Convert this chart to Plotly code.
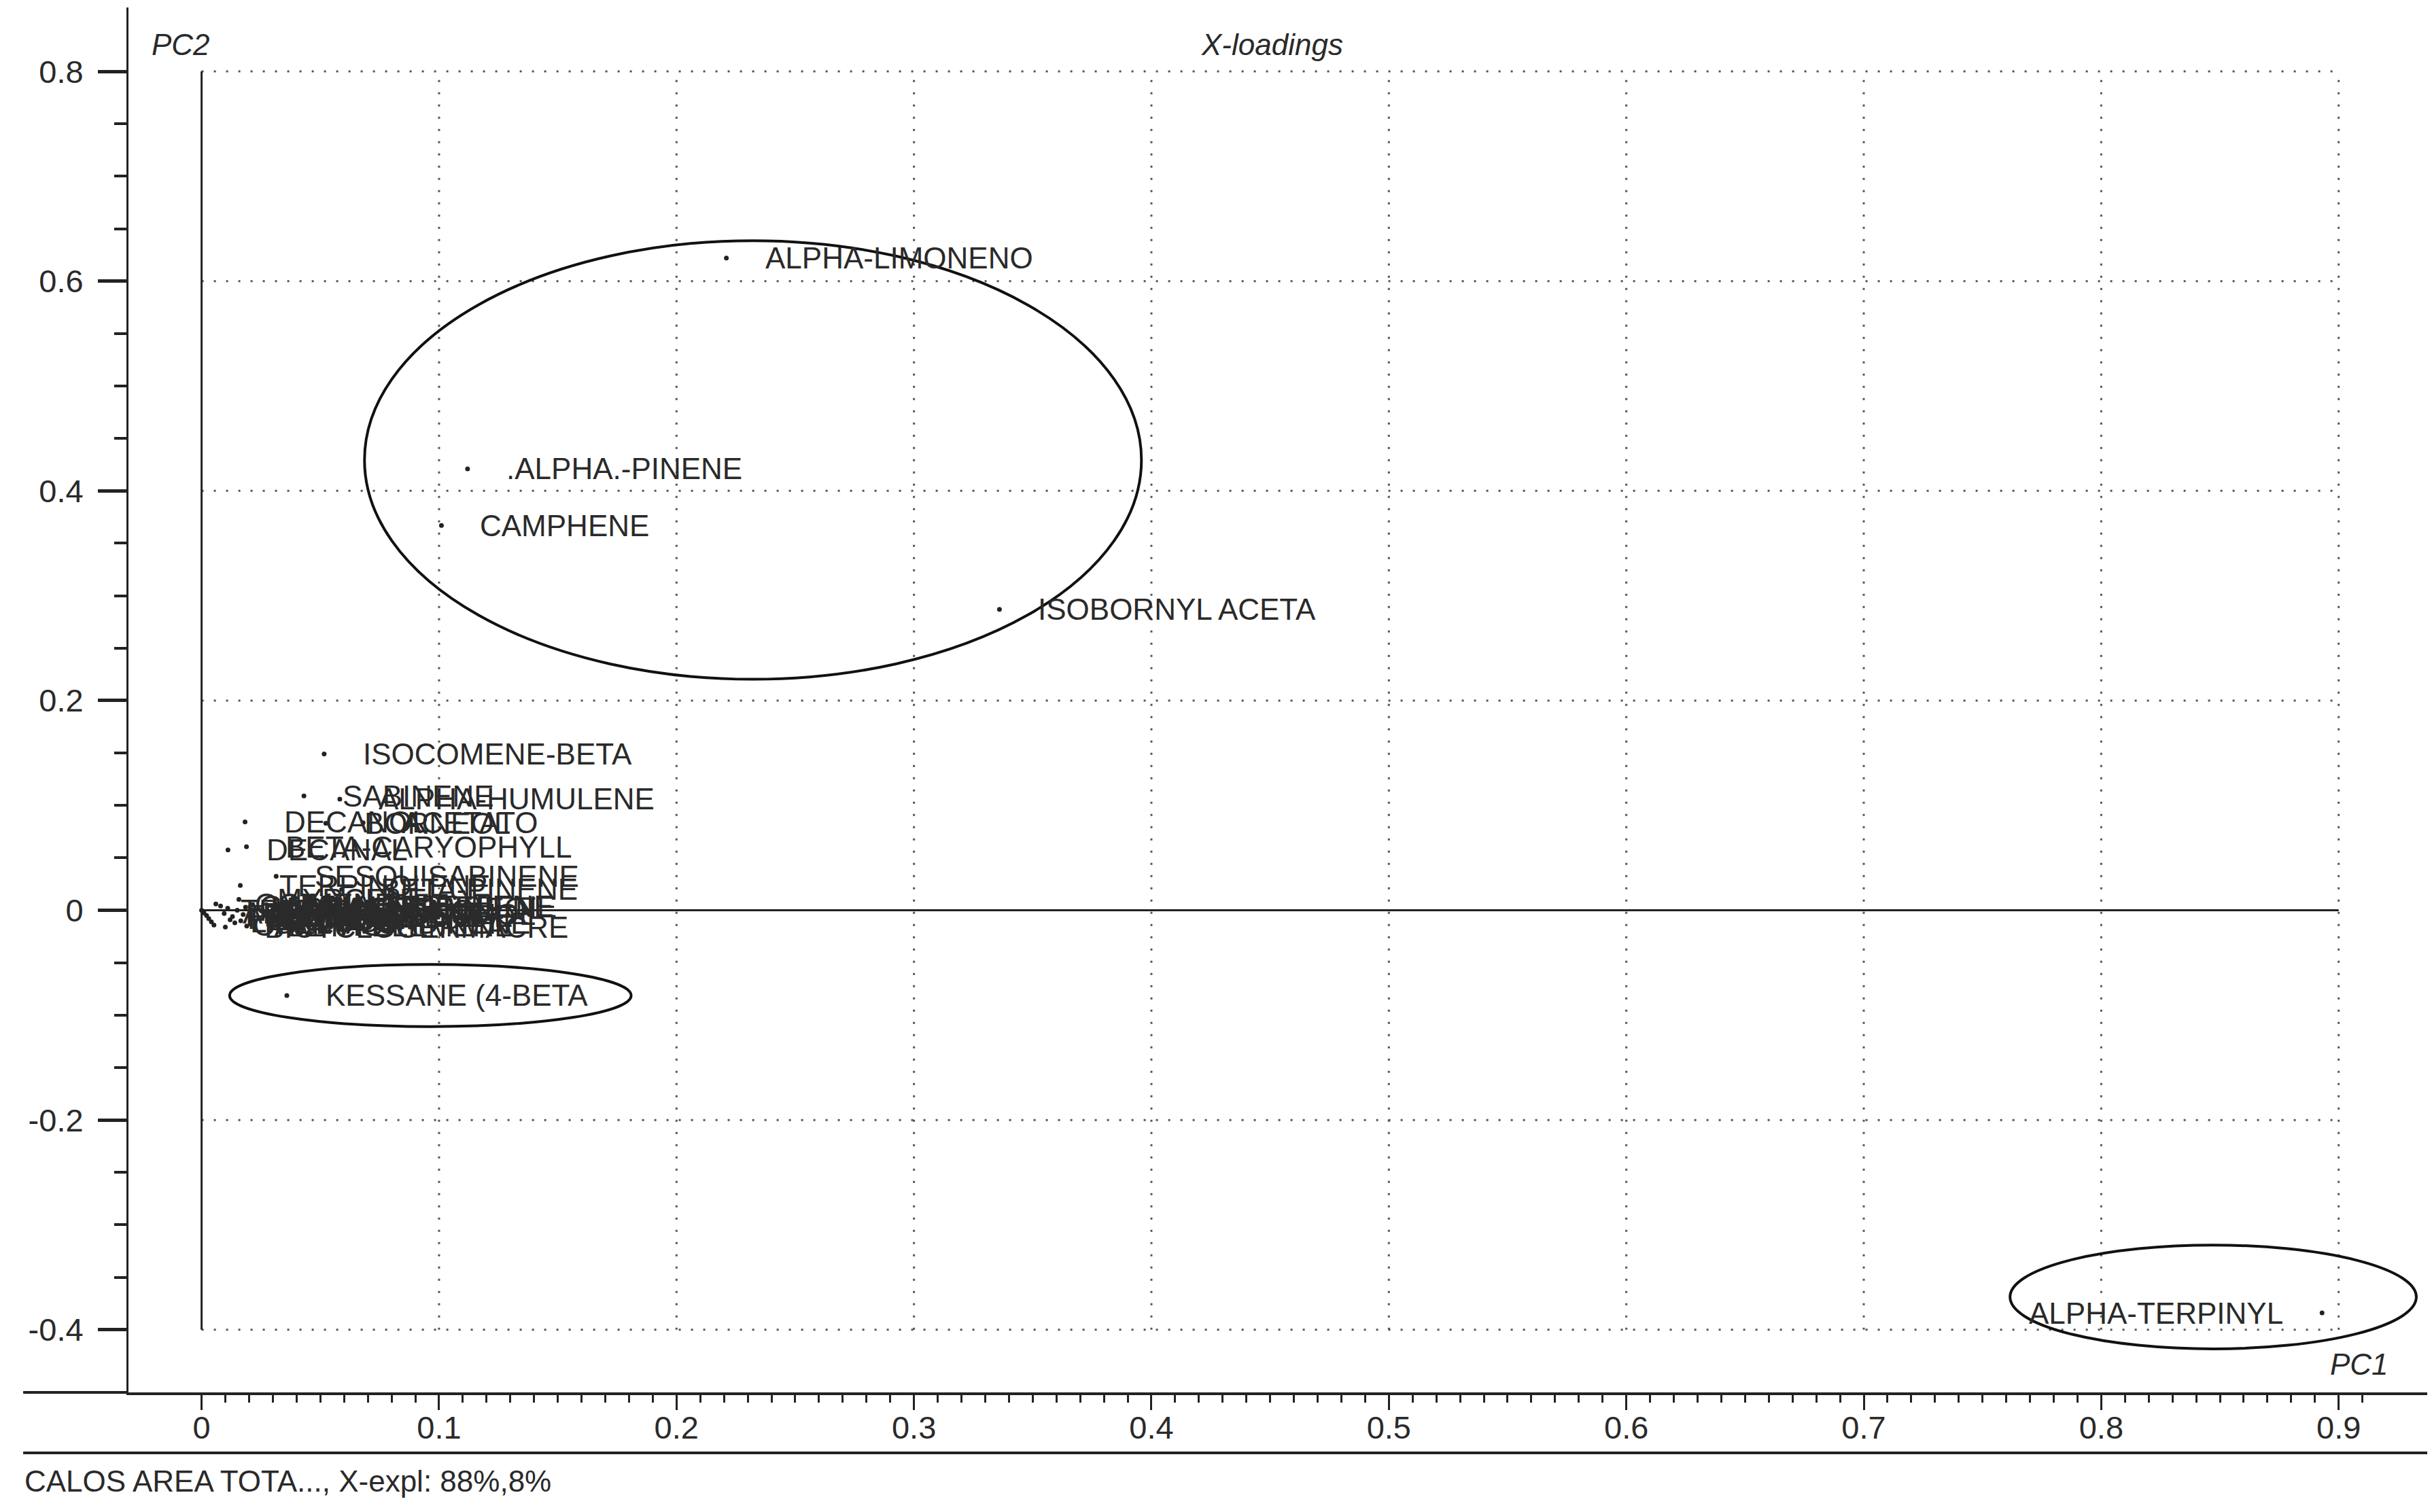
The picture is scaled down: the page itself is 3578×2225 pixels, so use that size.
import plotly.graph_objects as go

# -----------------------------
# X-loadings (PC1 / PC2)
# -----------------------------
names = [
    "ALPHA-LIMONENO", ".ALPHA.-PINENE", "CAMPHENE", "ISOBORNYL ACETA",
    "ISOCOMENE-BETA", "SABINENE", "ALPHA-HUMULENE",
    "DECANOL", "BORNEOL", "ACETATO",
    "DECANAL", "BETA-CARYOPHYLL", "SESQUISABINENE",
    "TERPINOLENE", "BETA-PINENE", "MYRCENE",
    "TRICYCLENE", "ALPHA-THUJENE", "FENCHONE", "P-CYMENE", "LINALOOL", "CAMPHOR",
    "OCIMENE", "GAMMA-TERPINENE", "TERPINEN-4-OL", "ALPHA-TERPINEOL",
    "ELEMOL", "GERMACRENE D", "DELTA-CADINENE", "SPATHULENOL", "GUAIOL",
    "BETA-EUDESMOL", "ALPHA-CUBEBENE", "BETA-ELEMENE", "BICYCLOGERMACRE",
    "KESSANE (4-BETA", "ALPHA-TERPINYL",
]
pc1 = [
    0.221, 0.112, 0.101, 0.336,
    0.0516, 0.0431, 0.0582,
    0.0183, 0.0523, 0.0680,
    0.0111, 0.0189, 0.0314,
    0.0163, 0.0590, 0.0157,
    0.0000, 0.0010, 0.0021, 0.0030, 0.0041, 0.0052,
    0.0060, 0.0080, 0.0095, 0.0110,
    0.0120, 0.0130, 0.0140, 0.0150, 0.0165,
    0.0175, 0.0185, 0.0190, 0.0100,
    0.0359, 0.893,
]
pc2 = [
    0.622, 0.421, 0.367, 0.287,
    0.149, 0.109, 0.106,
    0.0843, 0.0829, 0.0835,
    0.0576, 0.0606, 0.0325,
    0.0236, 0.0200, 0.0104,
    0.0000, -0.0025, -0.0050, -0.0080, -0.0110, -0.0140,
    0.0060, 0.0040, -0.0030, 0.0020,
    -0.0090, -0.0060, -0.0120, 0.0000, -0.0100,
    -0.0040, 0.0030, -0.0150, -0.0160,
    -0.0813, -0.384,
]
# labels written on the left side of their point
left_labels = ["ALPHA-TERPINYL"]

x_ticks = [0, 0.1, 0.2, 0.3, 0.4, 0.5, 0.6, 0.7, 0.8, 0.9]
x_ticktext = ["0", "0.1", "0.2", "0.3", "0.4", "0.5", "0.6", "0.7", "0.8", "0.9"]
y_ticks = [-0.4, -0.2, 0, 0.2, 0.4, 0.6, 0.8]
y_ticktext = ["-0.4", "-0.2", "0", "0.2", "0.4", "0.6", "0.8"]

# circled groups (x0, x1, y0, y1)
groups = [
    (0.0686, 0.3958, 0.2203, 0.6386),
    (0.0118, 0.1809, -0.1109, -0.0517),
    (0.7616, 0.9327, -0.4183, -0.3193),
]

FONT = "Liberation Sans, Arial, sans-serif"
FS = 44
INK = "#222"
TXT = "#2a2a2a"

fig = go.Figure()
fig.add_trace(go.Scatter(
    x=pc1, y=pc2, mode="markers", text=names, hoverinfo="text",
    marker=dict(color=INK, size=7, line=dict(width=0)), cliponaxis=False))

# labels next to points
for name, xv, yv in zip(names, pc1, pc2):
    left = name in left_labels
    fig.add_annotation(
        x=xv, y=yv, text=name, showarrow=False,
        xanchor="right" if left else "left", yanchor="middle",
        xshift=-55 if left else 55, font=dict(size=FS, color=TXT, family=FONT))

# dotted grid (only inside the tick frame)
gx0, gx1 = min(x_ticks), max(x_ticks)
gy0, gy1 = min(y_ticks), max(y_ticks)
for xv in x_ticks[1:]:
    fig.add_shape(type="line", x0=xv, x1=xv, y0=gy0, y1=gy1, layer="below",
                  line=dict(color="#555", width=3, dash="3px,15px"))
for yv in y_ticks:
    if yv == 0:
        continue
    fig.add_shape(type="line", x0=gx0, x1=gx1, y0=yv, y1=yv, layer="below",
                  line=dict(color="#555", width=3, dash="3px,15px"))
# zero lines
fig.add_shape(type="line", x0=0, x1=0, y0=gy0, y1=gy1, line=dict(color=INK, width=3))
fig.add_shape(type="line", x0=gx0, x1=gx1, y0=0, y1=0, line=dict(color=INK, width=3))

# ellipses
for x0, x1, y0, y1 in groups:
    fig.add_shape(type="circle", x0=x0, x1=x1, y0=y0, y1=y1,
                  line=dict(color="#111", width=4))

# bottom frame lines
fig.add_shape(type="line", xref="paper", yref="paper", x0=-0.0458, x1=0, y0=0, y1=0,
              line=dict(color=INK, width=4))
fig.add_shape(type="line", xref="paper", yref="paper", x0=-0.0458, x1=1, y0=-0.0437, y1=-0.0437,
              line=dict(color=INK, width=4))

# axis names and title
fig.add_annotation(x=-0.0216, y=0.826, text="<i>PC2</i>", showarrow=False, xanchor="left",
                   font=dict(size=FS, color=TXT, family=FONT))
fig.add_annotation(x=0.4507, y=0.826, text="<i>X-loadings</i>", showarrow=False, xanchor="center",
                   font=dict(size=FS, color=TXT, family=FONT))
fig.add_annotation(x=0.9216, y=-0.433, text="<i>PC1</i>", showarrow=False, xanchor="right",
                   font=dict(size=FS, color=TXT, family=FONT))
fig.add_annotation(xref="paper", yref="paper", x=-0.0458, y=-0.0638, xanchor="left", yanchor="middle",
                   text="CALOS AREA TOTA..., X-expl: 88%,8%", showarrow=False,
                   font=dict(size=FS, color=TXT, family=FONT))

fig.update_layout(
    width=3578, height=2225,
    margin=dict(l=189, r=7, t=11, b=176),
    plot_bgcolor="white", paper_bgcolor="white",
    showlegend=False,
    font=dict(family=FONT, size=FS, color=TXT),
    xaxis=dict(
        range=[-0.0308, 0.9373], showgrid=False, zeroline=False,
        showline=True, linecolor=INK, linewidth=4,
        ticks="outside", tickmode="array", tickvals=x_ticks, ticktext=x_ticktext,
        ticklen=22, tickwidth=3, tickcolor=INK, ticklabelstandoff=-14,
        minor=dict(tickmode="array", tickvals=[i / 100 for i in range(0, 92)],
                   ticks="outside", ticklen=11, tickwidth=3, tickcolor=INK),
        tickfont=dict(size=47, color=TXT, family=FONT),
    ),
    yaxis=dict(
        range=[-0.4598, 0.861], showgrid=False, zeroline=False,
        showline=True, linecolor=INK, linewidth=3,
        ticks="outside", tickmode="array", tickvals=y_ticks, ticktext=y_ticktext,
        ticklen=42, tickwidth=5, tickcolor=INK, ticklabelstandoff=12,
        minor=dict(tickmode="array", tickvals=[i / 20 for i in range(-8, 17)],
                   ticks="outside", ticklen=18, tickwidth=4, tickcolor=INK),
        tickfont=dict(size=47, color=TXT, family=FONT),
    ),
)

fig.write_html("out.html", config={"displayModeBar": False},
               post_script="document.body.style.margin='0';document.body.style.overflow='hidden';")
